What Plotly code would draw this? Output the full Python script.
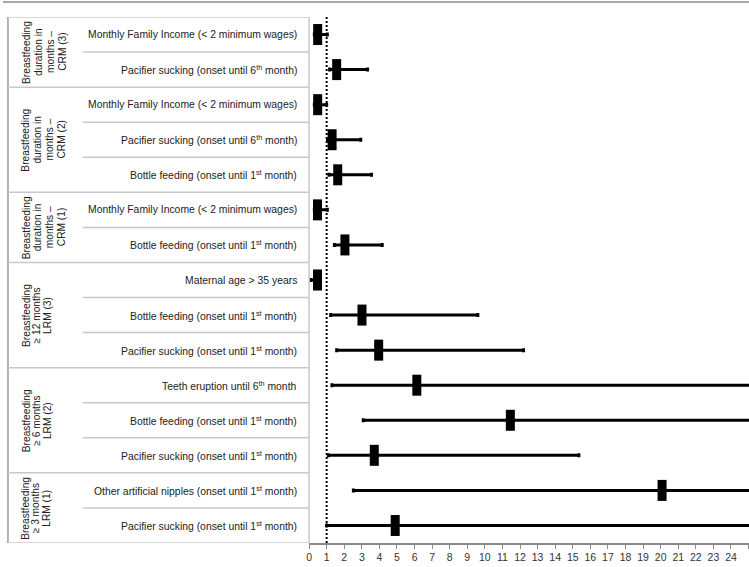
import plotly.graph_objects as go

# ---------------- data ----------------
row_labels = [
    "Monthly Family Income (< 2 minimum wages)",
    "Pacifier sucking (onset until 6<sup>th</sup> month)",
    "Monthly Family Income (< 2 minimum wages)",
    "Pacifier sucking (onset until 6<sup>th</sup> month)",
    "Bottle feeding (onset until 1<sup>st</sup> month)",
    "Monthly Family Income (< 2 minimum wages)",
    "Bottle feeding (onset until 1<sup>st</sup> month)",
    "Maternal age > 35 years",
    "Bottle feeding (onset until 1<sup>st</sup> month)",
    "Pacifier sucking (onset until 1<sup>st</sup> month)",
    "Teeth eruption until 6<sup>th</sup> month",
    "Bottle feeding (onset until 1<sup>st</sup> month)",
    "Pacifier sucking (onset until 1<sup>st</sup> month)",
    "Other artificial nipples (onset until 1<sup>st</sup> month)",
    "Pacifier sucking (onset until 1<sup>st</sup> month)",
]
estimate = [0.49, 1.57, 0.49, 1.31, 1.63, 0.48, 2.04, 0.48, 3.01, 3.96, 6.13, 11.45, 3.71, 20.08, 4.90]
ci_low   = [0.30, 1.17, 0.30, 1.05, 1.13, 0.30, 1.44, 0.10, 1.23, 1.57, 1.30, 3.08, 1.10, 2.52, 1.00]
ci_high  = [1.04, 3.33, 1.00, 2.94, 3.55, 1.04, 4.16, 0.65, 9.60, 12.20, 30.0, 30.0, 15.35, 30.0, 30.0]

group_lines = [
    ["Breastfeeding", "duration in", "months –", "CRM (3)"],
    ["Breastfeeding", "duration in", "months –", "CRM (2)"],
    ["Breastfeeding", "duration in", "months –", "CRM (1)"],
    ["Breastfeeding", "≥ 12 months", "LRM (3)"],
    ["Breastfeeding", "≥ 6 months", "LRM (2)"],
    ["Breastfeeding", "≥ 3 months", "LRM (1)"],
]
group_sizes = [2, 3, 2, 3, 3, 2]

ref_value = 1
x_ticks = list(range(0, 26))

# ---------------- layout constants ----------------
W, H = 749, 567
PLOT_LEFT_PX = 307.3
X_MAX = (W - PLOT_LEFT_PX) / 17.65
TOP, BOTTOM = 17, 24
PLOT_H = H - TOP - BOTTOM
n = len(row_labels)
ypos = [i + 0.5 for i in range(n)]

def px(x):
    return x / W

fig = go.Figure()

# reference line
fig.add_trace(go.Scatter(
    x=[ref_value, ref_value], y=[0, n + 0.1], mode="lines",
    line=dict(color="black", width=2, dash="2px,2px"),
    cliponaxis=False, hoverinfo="skip", showlegend=False))

# estimates with CI
fig.add_trace(go.Scatter(
    x=estimate, y=ypos, mode="markers",
    marker=dict(symbol="line-ns", size=15, color="black",
                line=dict(color="black", width=9)),
    error_x=dict(type="data", symmetric=False,
                 array=[h - e for h, e in zip(ci_high, estimate)],
                 arrayminus=[e - l for e, l in zip(estimate, ci_low)],
                 color="black", thickness=3, width=2),
    showlegend=False))

shapes = []
grid_c = "#c8c8c8"
border_c = "#9a9a9a"
# top rule of page
shapes.append(dict(type="line", xref="paper", yref="paper", x0=0, x1=1,
                   y0=1 + 15 / PLOT_H, y1=1 + 15 / PLOT_H,
                   line=dict(color="#8a8a8a", width=1.5)))
# table outer border
shapes.append(dict(type="line", xref="paper", yref="y", x0=px(5), x1=px(5), y0=0, y1=n,
                   line=dict(color=border_c, width=1.5)))
shapes.append(dict(type="line", xref="paper", yref="y", x0=px(PLOT_LEFT_PX), x1=px(PLOT_LEFT_PX),
                   y0=0, y1=n, line=dict(color=grid_c, width=1.5)))
# row / group lines
boundaries = [0]
for s in group_sizes:
    boundaries.append(boundaries[-1] + s)
for b in boundaries:
    shapes.append(dict(type="line", xref="paper", yref="y", x0=px(5), x1=px(PLOT_LEFT_PX),
                       y0=b, y1=b, line=dict(color=grid_c, width=1.5)))
for i in range(1, n):
    if i not in boundaries:
        shapes.append(dict(type="line", xref="paper", yref="y", x0=px(80), x1=px(PLOT_LEFT_PX),
                           y0=i, y1=i, line=dict(color=grid_c, width=1.5)))

annotations = []
font = dict(family="Arial, Liberation Sans, sans-serif", size=10.4, color="#222")
gfont = dict(family="Arial, Liberation Sans, sans-serif", size=10.2, color="#222")
for lab, y in zip(row_labels, ypos):
    annotations.append(dict(x=px(297), y=y, xref="paper", yref="y", text=lab,
                            showarrow=False, xanchor="right", yanchor="middle", font=font))
for g, lines in enumerate(group_lines):
    yc = (boundaries[g] + boundaries[g + 1]) / 2
    step = 12 if len(lines) == 4 else 10.5
    for k, t in enumerate(lines):
        annotations.append(dict(x=px(23 + step * k), y=yc, xref="paper", yref="y", text=t,
                                textangle=-90, showarrow=False, xanchor="center",
                                yanchor="middle", font=gfont))

fig.update_layout(
    width=W, height=H,
    margin=dict(l=0, r=0, t=TOP, b=BOTTOM, pad=0),
    paper_bgcolor="white", plot_bgcolor="white",
    shapes=shapes, annotations=annotations,
    xaxis=dict(domain=[px(PLOT_LEFT_PX), 1], range=[0, X_MAX],
               tickmode="array", tickvals=x_ticks, ticktext=[str(t) for t in x_ticks],
               showgrid=False, zeroline=False, showline=True, linecolor="#8a8a8a", linewidth=1.5,
               ticks="outside", ticklen=4, tickcolor="#8a8a8a",
               tickfont=dict(family="Arial, Liberation Sans, sans-serif", size=10.5, color="#333")),
    yaxis=dict(range=[n, 0], visible=False, domain=[0, 1]),
)

fig.write_html("out.html")
